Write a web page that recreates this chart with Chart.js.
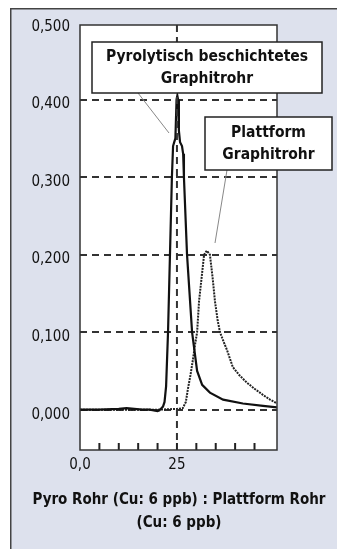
<!DOCTYPE html>
<html><head><meta charset="utf-8">
<script src="https://cdn.jsdelivr.net/npm/chart.js@4.4.1/dist/chart.umd.min.js"></script>
<style>html,body{margin:0;padding:0;background:#fff}#wrap{width:337px;height:549px}</style>
</head><body><div id="wrap"><canvas id="c" width="337" height="549"></canvas></div>
<script>
const pyroX = [0, 5, 10, 12, 14, 16, 18, 20, 20.5, 21, 21.4, 21.8, 22.2, 22.7, 23.2, 23.7, 24.0, 24.3, 24.6, 24.9, 25.1, 25.3, 25.5, 25.8, 26.3, 26.6, 26.8, 27.6, 28.9, 30.2, 31.5, 33.5, 36.9, 42, 47.2, 50.8];
const pyroY = [0, 0, 0.001, 0.002, 0.001, 0, 0, -0.002, -0.001, 0.002, 0.004, 0.01, 0.03, 0.1, 0.2, 0.3, 0.34, 0.345, 0.35, 0.40, 0.405, 0.40, 0.36, 0.345, 0.34, 0.33, 0.3, 0.2, 0.1, 0.05, 0.032, 0.022, 0.013, 0.008, 0.005, 0.003];
const platX = [0, 10, 20, 25, 26.5, 27.3, 27.8, 28.5, 29.1, 29.7, 30.2, 30.7, 31.2, 32.0, 32.7, 33.5, 34.2, 34.8, 35.5, 36.1, 37.0, 37.9, 39.4, 41, 43, 45, 47.2, 49, 50.8];
const platY = [0, 0, 0, 0.001, 0.002, 0.01, 0.026, 0.045, 0.064, 0.085, 0.1, 0.14, 0.163, 0.2, 0.205, 0.2, 0.17, 0.14, 0.115, 0.1, 0.088, 0.077, 0.055, 0.045, 0.035, 0.027, 0.019, 0.013, 0.008];
const yTicks = [0, 0.1, 0.2, 0.3, 0.4, 0.5];
const yTickLabels = ['0,000', '0,100', '0,200', '0,300', '0,400', '0,500'];
const xTicks = [0, 25];
const xTickLabels = ['0,0', '25'];
const xMinorTicks = [5, 10, 15, 20, 25, 30, 35, 40, 45];
const seriesNames = ['Pyrolytisch beschichtetes Graphitrohr', 'Plattform Graphitrohr'];
const labelPyro = ['Pyrolytisch beschichtetes', 'Graphitrohr'];
const labelPlat = ['Plattform', 'Graphitrohr'];
const titleLines = ['Pyro Rohr (Cu: 6 ppb) : Plattform Rohr', '(Cu: 6 ppb)'];

const FONT = "'DejaVu Sans Condensed','Liberation Sans Narrow',sans-serif";
const zip = (xs, ys) => xs.map((x, i) => ({x, y: ys[i]}));

const deco = {
  id: 'deco',
  beforeDraw(chart) {
    const ctx = chart.ctx;
    ctx.save();
    ctx.fillStyle = '#fff';
    ctx.fillRect(0, 0, 337, 549);
    ctx.fillStyle = '#dde1ed';
    ctx.fillRect(10, 8, 327, 541);
    ctx.strokeStyle = '#444';
    ctx.lineWidth = 1.5;
    ctx.beginPath();
    ctx.moveTo(10.75, 549); ctx.lineTo(10.75, 8.75); ctx.lineTo(337, 8.75);
    ctx.stroke();
    const a = chart.chartArea;
    ctx.fillStyle = '#fff';
    ctx.fillRect(a.left, 25, a.right - a.left, a.bottom - 25);
    ctx.restore();
  },
  afterDraw(chart) {
    const ctx = chart.ctx;
    const a = chart.chartArea;
    const xs = chart.scales.x;
    ctx.save();
    ctx.strokeStyle = '#333';
    ctx.lineWidth = 2;
    ctx.setLineDash([7, 5]);
    const x25 = xs.getPixelForValue(25);
    ctx.beginPath(); ctx.moveTo(x25, 25); ctx.lineTo(x25, a.bottom - 7); ctx.stroke();
    ctx.setLineDash([]);
    ctx.lineWidth = 2;
    ctx.strokeStyle = '#222';
    xMinorTicks.forEach(v => {
      const px = xs.getPixelForValue(v);
      ctx.beginPath(); ctx.moveTo(px, a.bottom); ctx.lineTo(px, a.bottom - 7); ctx.stroke();
    });
    ctx.strokeStyle = '#333';
    ctx.lineWidth = 1.5;
    ctx.strokeRect(a.left, 25, a.right - a.left, a.bottom - 25);
    ctx.strokeStyle = '#888';
    ctx.lineWidth = 1;
    ctx.beginPath(); ctx.moveTo(138, 93); ctx.lineTo(169, 133); ctx.stroke();
    ctx.beginPath(); ctx.moveTo(227, 170); ctx.lineTo(215, 243); ctx.stroke();
    const box = (x0, y0, x1, y1, lines, ys) => {
      ctx.fillStyle = '#fff';
      ctx.fillRect(x0, y0, x1 - x0, y1 - y0);
      ctx.strokeStyle = '#222';
      ctx.lineWidth = 1.5;
      ctx.strokeRect(x0, y0, x1 - x0, y1 - y0);
      ctx.fillStyle = '#111';
      ctx.font = 'bold 15.5px ' + FONT;
      ctx.textAlign = 'center';
      ctx.textBaseline = 'middle';
      lines.forEach((t, i) => ctx.fillText(t, (x0 + x1) / 2, ys[i]));
    };
    box(92, 42, 322, 93, labelPyro, [57, 79]);
    box(205, 117, 332, 170, labelPlat, [133, 155]);
    ctx.fillStyle = '#111';
    ctx.font = 'bold 15px ' + FONT;
    ctx.textAlign = 'center';
    ctx.textBaseline = 'middle';
    ctx.fillText(titleLines[0], 179, 500);
    ctx.fillText(titleLines[1], 179, 523);
    ctx.restore();
  }
};

new Chart(document.getElementById('c'), {
  type: 'line',
  data: {
    datasets: [
      {label: seriesNames[0], data: zip(pyroX, pyroY), borderColor: '#111', borderWidth: 2.2, pointRadius: 0, tension: 0, fill: false},
      {label: seriesNames[1], data: zip(platX, platY), borderColor: '#222', borderWidth: 2, borderDash: [2, 1], pointRadius: 0, tension: 0, fill: false}
    ]
  },
  options: {
    responsive: false,
    animation: false,
    events: [],
    layout: {padding: {left: 0, top: 22, right: 60, bottom: 69}},
    plugins: {legend: {display: false}, tooltip: {enabled: false}, title: {display: false}},
    scales: {
      x: {
        type: 'linear', min: 0, max: 50.8,
        afterBuildTicks: s => { s.ticks = xTicks.map(v => ({value: v})); },
        afterFit: s => { s.height = 30; },
        grid: {display: false, drawTicks: false},
        border: {display: false},
        ticks: {
          callback: (v) => xTickLabels[xTicks.indexOf(v)],
          color: '#111', font: {family: FONT, size: 15}, padding: 6, maxRotation: 0
        }
      },
      y: {
        type: 'linear', min: -0.052, max: 0.5,
        afterBuildTicks: s => { s.ticks = yTicks.map(v => ({value: v})); },
        afterFit: s => { s.width = 80; },
        grid: {
          color: c => (c.tick && c.tick.value >= 0.5 ? 'rgba(0,0,0,0)' : '#333'),
          lineWidth: 2, drawTicks: false
        },
        border: {display: false, dash: [7, 5]},
        ticks: {
          callback: (v) => yTickLabels[yTicks.indexOf(v)],
          color: '#111', font: {family: FONT, size: 15}, padding: 10, labelOffset: 5
        }
      }
    }
  },
  plugins: [deco]
});
</script>
</body></html>
